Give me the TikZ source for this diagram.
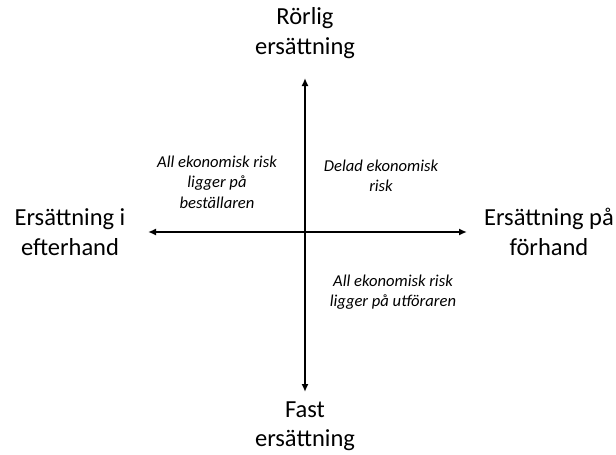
\documentclass[tikz,border=0pt]{standalone}
\usepackage{fontspec}
\setmainfont{Carlito}
\usetikzlibrary{
  arrows.meta,
  positioning
}

\begin{document}
\begin{tikzpicture}[x=1pt,y=-1pt,> ={Latex[length=8pt,width=7pt]}]
  \tikzset{
    axislabel/.style={
      align=center,inner sep=0pt,
      font=\fontsize{24.5}{29.5}\selectfont
    },
    risktext/.style={
      align=center,inner sep=0pt,
      font=\fontsize{16.6}{20.5}\selectfont\itshape
    },
    axis/.style={
      line width=1.8pt,<->
    },
  }
  \useasboundingbox (0,0) rectangle (616,455);

  % axis end points
  \coordinate (top) at (305,78);
  \coordinate (bottom) at (305,392);
  \coordinate (left) at (148,232);
  \coordinate (right) at (467,232);

  \draw[axis] (bottom) -- (top);
  \draw[axis] (left) -- (right);

  % axis labels
  \node[axislabel] (rorlig) at (305,33) {Rörlig\\ersättning};
  \node[axislabel] (fast) at (305,426) {Fast\\ersättning};
  \node[axislabel] (efterhand) at (70,232) {Ersättning i\\efterhand};
  \node[axislabel] (forhand) at (549,232) {Ersättning på\\förhand};

  % quadrants
  \node[risktext] (bestallare) at (217,182) {All ekonomisk risk\\ligger på\\beställaren};
  \node[risktext] (delad) at (381,176) {Delad ekonomisk\\risk};
  \node[risktext] (utforare) at (393,292) {All ekonomisk risk\\ligger på utföraren};
\end{tikzpicture}
\end{document}
